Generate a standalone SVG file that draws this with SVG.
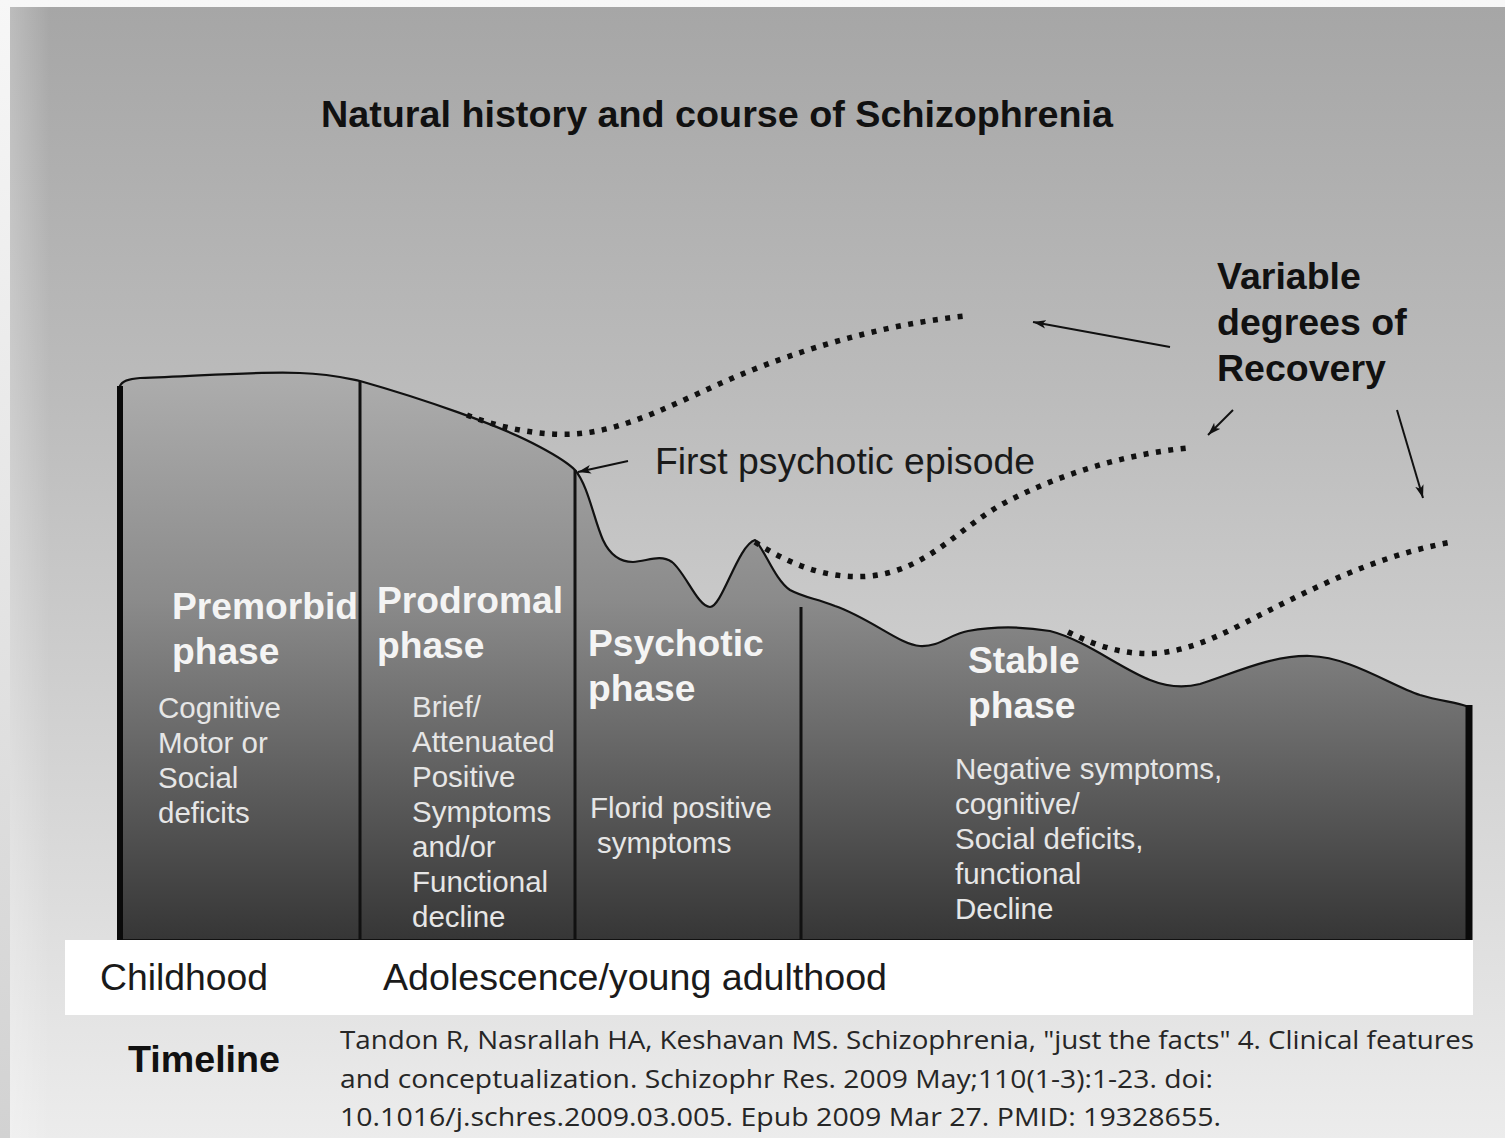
<svg xmlns="http://www.w3.org/2000/svg" width="1505" height="1138" viewBox="0 0 1505 1138">
<defs>
<linearGradient id="gMargin" x1="0" y1="0" x2="0" y2="1">
<stop offset="0" stop-color="#f7f7f7"/>
<stop offset="1" stop-color="#d2d2d2"/>
</linearGradient>
<linearGradient id="gBg" gradientUnits="userSpaceOnUse" x1="0" y1="7" x2="0" y2="1138">
<stop offset="0" stop-color="#a6a6a6"/>
<stop offset="0.35" stop-color="#bcbcbc"/>
<stop offset="0.62" stop-color="#d0d0d0"/>
<stop offset="1" stop-color="#ececec"/>
</linearGradient>
<linearGradient id="gEdge" x1="0" y1="0" x2="1" y2="0">
<stop offset="0" stop-color="#ffffff" stop-opacity="0.25"/>
<stop offset="1" stop-color="#ffffff" stop-opacity="0"/>
</linearGradient>
<linearGradient id="gHill" gradientUnits="userSpaceOnUse" x1="0" y1="372" x2="0" y2="940">
<stop offset="0" stop-color="#adadad"/>
<stop offset="0.4" stop-color="#8b8b8b"/>
<stop offset="0.72" stop-color="#5e5e5e"/>
<stop offset="1" stop-color="#363636"/>
</linearGradient>
<marker id="ah" viewBox="0 0 12 8" refX="12" refY="4" markerWidth="13" markerHeight="9" markerUnits="userSpaceOnUse" orient="auto">
<path d="M0,0 L12,4 L0,8 L3,4 Z" fill="#111"/>
</marker>
<style>
.big{font-family:"Liberation Sans",Arial,sans-serif;font-weight:bold;fill:#111;}
.reg{font-family:"Liberation Sans",Arial,sans-serif;fill:#1a1a1a;}
.ph{font-family:"Liberation Sans",Arial,sans-serif;font-weight:bold;font-size:37.2px;fill:#f4f4f4;}
.ds{font-family:"Liberation Sans",Arial,sans-serif;font-size:29.5px;fill:#e6e6e6;}
.cite{font-family:"Open Sans","Noto Sans",sans-serif;font-size:26px;fill:#262626;}
.dot{fill:none;stroke:#111;stroke-width:5.5;stroke-dasharray:5 7.5;}
.arr{fill:none;stroke:#111;stroke-width:2;marker-end:url(#ah);}
.div{stroke:#111;stroke-width:3;}
</style>
</defs>

<g id="background">
<rect x="0" y="0" width="1505" height="1138" fill="url(#gMargin)"/>
<rect x="10" y="7" width="1495" height="1131" fill="url(#gBg)"/>
<rect x="10" y="7" width="40" height="1131" fill="url(#gEdge)"/>
</g>

<text id="title" class="big" x="321" y="127" font-size="37" textLength="792" lengthAdjust="spacingAndGlyphs">Natural history and course of Schizophrenia</text>

<g id="course">
<path d="M120,386 C122,381 128,379 140,378 C200,376 260,371 300,373 C330,374 345,378 360,381 C420,398 500,425 540,447 C555,455 568,463 575,470 C588,485 594,520 603,540 C610,555 620,562 633,562 C648,561 660,554 672,562 C685,572 698,607 710,607 C722,607 738,545 755,540 C765,550 775,580 790,590 C805,598 815,598 835,606 C870,618 900,645 920,646 C940,647 950,634 968,631 C990,627 1020,626 1050,631 C1085,640 1120,668 1150,680 C1170,688 1185,688 1200,684 C1230,675 1270,655 1310,656 C1350,657 1390,685 1420,695 C1440,701 1455,702 1466,706 L1470,706 L1470,940 L120,940 Z" fill="url(#gHill)" stroke="#111" stroke-width="2.2" stroke-linejoin="round"/>
<line x1="120" y1="386" x2="120" y2="940" stroke="#0a0a0a" stroke-width="6"/>
<line x1="1469" y1="705" x2="1469" y2="940" stroke="#0a0a0a" stroke-width="7"/>
<line class="div" x1="360" y1="381" x2="360" y2="940"/>
<line class="div" x1="575" y1="470" x2="575" y2="940"/>
<line class="div" x1="801" y1="607" x2="801" y2="940"/>
</g>

<g id="recovery-curves">
<path class="dot" d="M467,415 C500,428 540,436 575,434 C630,430 680,400 740,375 C800,350 880,325 965,316"/>
<path class="dot" d="M755,542 C790,565 830,580 870,576 C930,570 960,525 1010,500 C1060,475 1120,455 1187,448"/>
<path class="dot" d="M1068,632 C1100,648 1130,656 1160,653 C1200,648 1230,630 1270,610 C1320,585 1380,555 1452,542"/>
</g>

<g id="premorbid">
<text class="ph" x="172" y="619">Premorbid</text>
<text class="ph" x="172" y="664">phase</text>
<text class="ds" x="158" y="718">Cognitive</text>
<text class="ds" x="158" y="753">Motor or</text>
<text class="ds" x="158" y="788">Social</text>
<text class="ds" x="158" y="823">deficits</text>
</g>

<g id="prodromal">
<text class="ph" x="377" y="613">Prodromal</text>
<text class="ph" x="377" y="658">phase</text>
<text class="ds" x="412" y="717">Brief/</text>
<text class="ds" x="412" y="752">Attenuated</text>
<text class="ds" x="412" y="787">Positive</text>
<text class="ds" x="412" y="822">Symptoms</text>
<text class="ds" x="412" y="857">and/or</text>
<text class="ds" x="412" y="892">Functional</text>
<text class="ds" x="412" y="927">decline</text>
</g>

<g id="psychotic">
<text class="ph" x="588" y="656">Psychotic</text>
<text class="ph" x="588" y="701">phase</text>
<text class="ds" x="590" y="818">Florid positive</text>
<text class="ds" x="597" y="853">symptoms</text>
</g>

<g id="stable">
<text class="ph" x="968" y="673">Stable</text>
<text class="ph" x="968" y="718">phase</text>
<text class="ds" x="955" y="779">Negative symptoms,</text>
<text class="ds" x="955" y="814">cognitive/</text>
<text class="ds" x="955" y="849">Social deficits,</text>
<text class="ds" x="955" y="884">functional</text>
<text class="ds" x="955" y="919">Decline</text>
</g>

<g id="first-episode">
<text class="reg" x="655" y="474" font-size="37.5" textLength="380" lengthAdjust="spacingAndGlyphs">First psychotic episode</text>
</g>

<g id="recovery-label">
<text class="big" x="1217" y="289" font-size="37.5">Variable</text>
<text class="big" x="1217" y="335" font-size="37.5">degrees of</text>
<text class="big" x="1217" y="381" font-size="37.5">Recovery</text>
</g>

<g id="connectors">
<line class="arr" x1="628" y1="461" x2="578" y2="472"/>
<line class="arr" x1="1170" y1="347" x2="1033" y2="322"/>
<line class="arr" x1="1233" y1="410" x2="1208" y2="435"/>
<line class="arr" x1="1397" y1="410" x2="1423" y2="498"/>
</g>

<g id="timeline">
<rect x="65" y="940" width="1408" height="75" fill="#ffffff"/>
<text class="reg" x="100" y="990" font-size="37.5" textLength="168" lengthAdjust="spacingAndGlyphs">Childhood</text>
<text class="reg" x="383" y="990" font-size="37.5" textLength="504" lengthAdjust="spacingAndGlyphs">Adolescence/young adulthood</text>
<text class="big" x="128" y="1072" font-size="37" textLength="152" lengthAdjust="spacingAndGlyphs">Timeline</text>
</g>

<g id="citation">
<text class="cite" x="340" y="1049" textLength="1134" lengthAdjust="spacingAndGlyphs">Tandon R, Nasrallah HA, Keshavan MS. Schizophrenia, "just the facts" 4. Clinical features</text>
<text class="cite" x="340" y="1088" textLength="873" lengthAdjust="spacingAndGlyphs">and conceptualization. Schizophr Res. 2009 May;110(1-3):1-23. doi:</text>
<text class="cite" x="340" y="1126" textLength="881" lengthAdjust="spacingAndGlyphs">10.1016/j.schres.2009.03.005. Epub 2009 Mar 27. PMID: 19328655.</text>
</g>
</svg>
